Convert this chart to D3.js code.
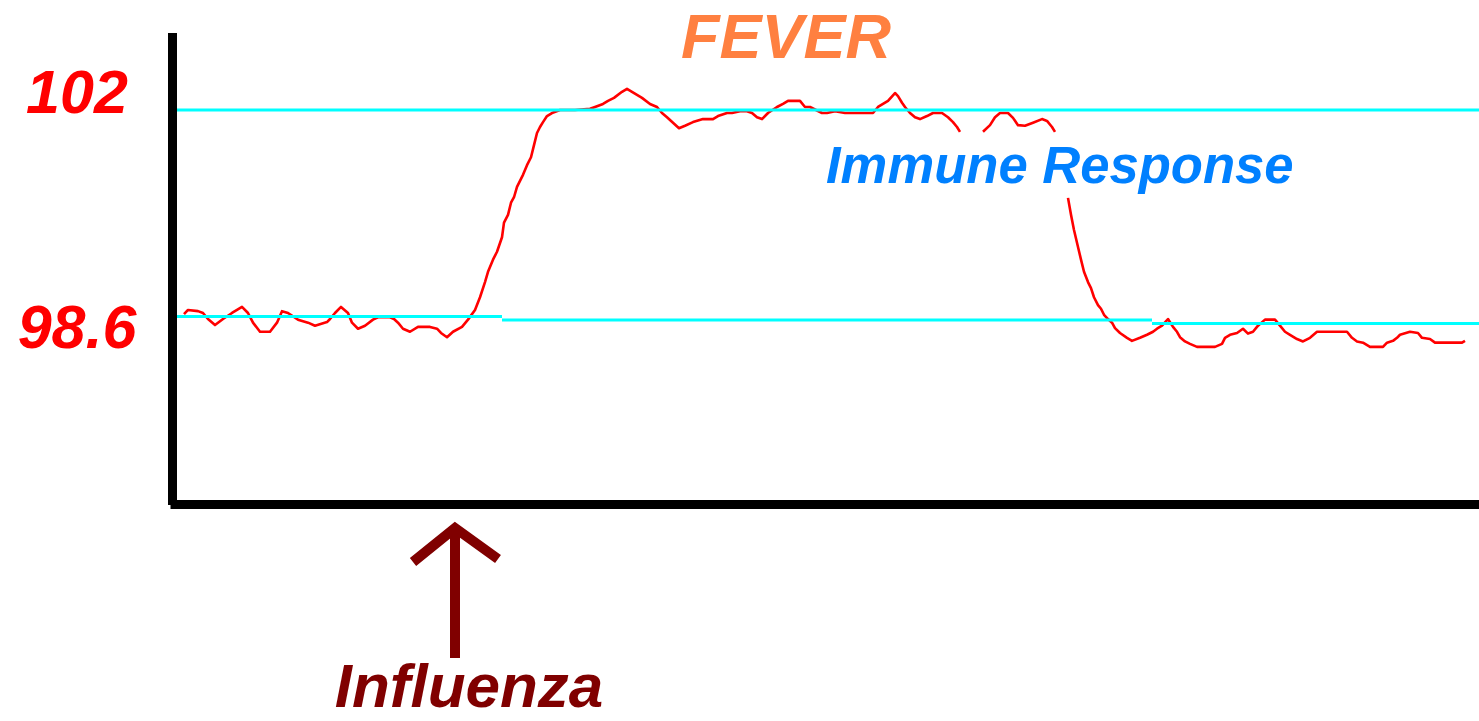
<!DOCTYPE html>
<html>
<head>
<meta charset="utf-8">
<script src="https://cdn.jsdelivr.net/npm/d3@7"></script>
<style>
  html, body { margin: 0; padding: 0; background: #ffffff; }
  svg { display: block; }
  text { font-family: "Liberation Sans", Arial, sans-serif; font-weight: bold; font-style: italic; }
</style>
</head>
<body>
<svg id="chart" width="1479" height="721"></svg>
<script>
// Body temperature (°F) over time (hours); null marks a break in the trace
const hours = [
  1.1, 1.5, 2.5, 3.0, 3.5, 4.2, 5.0, 5.9, 6.9, 7.5, 8.0, 8.7, 9.7, 10.4, 10.9, 11.5, 12.5, 13.5, 14.2, 15.4,
  15.7, 16.2, 16.8, 17.5, 17.9, 18.5, 19.2, 20.0, 20.5, 21.7, 22.1, 22.5, 23.0, 23.7, 24.5, 25.7, 26.4, 26.8,
  27.4, 28.0, 28.9, 29.5, 30.2, 30.7, 31.2, 31.5, 32.0, 32.4, 32.9, 33.1, 33.5, 33.8, 34.1, 34.4, 35.0, 35.4,
  35.8, 36.1, 36.4, 36.7, 37.0, 37.4, 37.9, 38.7, 40.2, 41.7, 42.2, 43.0, 43.5, 44.1, 44.9, 45.4, 45.9, 46.4,
  46.9, 47.7, 48.4, 48.9, 49.4, 50.0, 50.6, 51.2, 52.0, 53.0, 54.0, 54.5, 55.4, 55.9, 56.7, 57.4, 57.9, 58.4,
  58.9, 59.5, 60.4, 61.0, 61.5, 62.7, 63.2, 63.7, 64.9, 65.4, 66.2, 67.2, 70.0, 70.5, 71.0, 71.5, 72.2, 72.5,
  72.9, 73.2, 73.7, 74.2, 74.7, 75.4, 76.0, 76.9, 77.5, 78.0, 78.4, 78.7, 79.8,
  81.0, 81.7, 82.2, 82.7, 83.5, 84.0, 84.5, 85.2, 86.0, 86.9, 87.4, 87.9, 88.2, 88.8,
  89.5, 89.8, 90.1, 90.5, 90.8, 91.1, 91.5, 91.8, 92.1, 92.5, 92.8, 93.1, 93.5, 93.9, 94.2, 94.7, 95.4, 95.9,
  96.7, 97.4, 98.0, 98.4, 98.9, 99.5, 100.0, 100.4, 100.7, 101.2, 101.7, 102.4, 104.2, 104.9, 105.2, 105.7,
  106.4, 107.0, 107.5, 108.0, 108.5, 109.2, 110.2, 110.7, 111.2, 111.7, 112.4, 113.0, 113.7, 114.4, 117.4,
  117.9, 118.4, 119.0, 119.7, 121.0, 121.4, 122.0, 122.4, 122.7, 123.7, 124.5, 124.9, 125.7, 126.2, 128.9, 129.2
];
const tempF = [
  98.63, 98.70, 98.68, 98.65, 98.55, 98.45, 98.55, 98.65, 98.75, 98.65, 98.49, 98.34, 98.34, 98.49, 98.68, 98.65, 98.54, 98.49, 98.44, 98.50,
  98.55, 98.65, 98.75, 98.65, 98.49, 98.39, 98.44, 98.54, 98.58, 98.58, 98.55, 98.49, 98.39, 98.34, 98.42, 98.42, 98.39, 98.32,
  98.25, 98.34, 98.42, 98.54, 98.70, 98.91, 99.16, 99.33, 99.53, 99.66, 99.90, 100.14, 100.27, 100.47, 100.56, 100.73, 100.93, 101.09,
  101.22, 101.42, 101.62, 101.72, 101.80, 101.90, 101.95, 102.00, 102.00, 102.02, 102.05, 102.10, 102.15, 102.20, 102.30, 102.35, 102.30, 102.25,
  102.20, 102.10, 102.05, 101.95, 101.88, 101.79, 101.70, 101.74, 101.80, 101.85, 101.85, 101.90, 101.95, 101.95, 101.98, 101.98, 101.95, 101.88,
  101.85, 101.95, 102.05, 102.10, 102.15, 102.15, 102.05, 102.05, 101.95, 101.95, 101.98, 101.95, 101.95, 102.05, 102.10, 102.15, 102.28, 102.23,
  102.12, 102.05, 101.95, 101.88, 101.85, 101.90, 101.95, 101.95, 101.88, 101.80, 101.72, 101.64, null,
  101.64, 101.75, 101.88, 101.95, 101.95, 101.87, 101.75, 101.74, 101.79, 101.85, 101.82, 101.72, 101.64, null,
  100.55, 100.27, 100.02, 99.74, 99.53, 99.33, 99.16, 99.06, 98.91, 98.78, 98.72, 98.62, 98.55, 98.49, 98.40, 98.32, 98.24, 98.19,
  98.24, 98.29, 98.34, 98.39, 98.44, 98.55, 98.42, 98.34, 98.25, 98.18, 98.14, 98.09, 98.09, 98.14, 98.24, 98.29,
  98.32, 98.39, 98.31, 98.34, 98.44, 98.54, 98.54, 98.44, 98.34, 98.29, 98.22, 98.18, 98.24, 98.34, 98.34,
  98.24, 98.18, 98.16, 98.09, 98.09, 98.16, 98.19, 98.24, 98.29, 98.34, 98.32, 98.24, 98.22, 98.16, 98.16, 98.19
];

// Reference temperatures: fever level and the (slightly drifting) normal level
const feverLevel = 102;
const normalBreaks = [0.4, 32.9, 97.9, 130.6];
const normalLevels = [98.59, 98.535, 98.475];

// Axis tick labels
const tickValues = [102, 98.6];
const tickLabels = ["102", "98.6"];

// Annotations
const titleText = "FEVER";
const responseText = "Immune Response";
const causeText = "Influenza";
const onsetHour = 28.2;

const svg = d3.select("#chart");

const x = d3.scaleLinear().domain([0, 130]).range([173, 1473]);
const y = d3.scaleLinear().domain([98.6, 102]).range([316, 110]);

// Temperature trace
const points = hours.map((h, i) => ({ h, t: tempF[i] }));
const line = d3.line()
  .defined(d => d.t != null)
  .x(d => x(d.h))
  .y(d => y(d.t));

svg.append("path")
  .datum(points)
  .attr("d", line)
  .attr("fill", "none")
  .attr("stroke", "#ff0000")
  .attr("stroke-width", 2.6)
  .attr("stroke-linejoin", "round");

// Reference lines (drawn over the trace)
const xMax = 130.6;
svg.append("line")
  .attr("x1", x(0.4)).attr("x2", x(xMax))
  .attr("y1", y(feverLevel)).attr("y2", y(feverLevel))
  .attr("stroke", "#00ffff").attr("stroke-width", 3);

const normalSegs = normalLevels.map((lv, i) => ({ a: normalBreaks[i], b: normalBreaks[i + 1], lv }));
svg.selectAll("line.normal")
  .data(normalSegs)
  .join("line")
  .attr("class", "normal")
  .attr("x1", d => x(d.a)).attr("x2", d => x(d.b))
  .attr("y1", d => y(d.lv)).attr("y2", d => y(d.lv))
  .attr("stroke", "#00ffff").attr("stroke-width", 3);

// Axes
const axisBottomY = 504.5;
svg.append("rect")
  .attr("x", 168).attr("y", 33)
  .attr("width", 9).attr("height", 472)
  .attr("fill", "#000");
svg.append("rect")
  .attr("x", 170.5).attr("y", axisBottomY - 4.5)
  .attr("width", 1479 - 170.5).attr("height", 9)
  .attr("fill", "#000");

// Tick labels
const labelNudge = [3, 32];
svg.selectAll("text.tick")
  .data(tickValues)
  .join("text")
  .attr("class", "tick")
  .attr("x", 77)
  .attr("y", (d, i) => y(d) + labelNudge[i])
  .attr("text-anchor", "middle")
  .attr("font-size", 61)
  .attr("fill", "#ff0000")
  .text((d, i) => tickLabels[i]);

// Title
svg.append("text")
  .attr("x", 786).attr("y", 58)
  .attr("text-anchor", "middle")
  .attr("font-size", 63)
  .attr("fill", "#ff8040")
  .text(titleText);

// Immune response label
svg.append("text")
  .attr("x", 826).attr("y", 183)
  .attr("font-size", 52.6)
  .attr("fill", "#0080ff")
  .text(responseText);

// Onset arrow
const ax = x(onsetHour);
const arrow = svg.append("g")
  .attr("stroke", "#800000")
  .attr("stroke-width", 10)
  .attr("fill", "none");
arrow.append("line")
  .attr("x1", ax).attr("x2", ax)
  .attr("y1", 526).attr("y2", 658);
arrow.append("polyline")
  .attr("points", [[ax - 42, 562], [ax, 528], [ax + 43, 559]].map(p => p.join(",")).join(" "))
  .attr("stroke-linejoin", "miter");

svg.append("text")
  .attr("x", 469).attr("y", 707)
  .attr("text-anchor", "middle")
  .attr("font-size", 62)
  .attr("fill", "#800000")
  .text(causeText);
</script>
</body>
</html>
